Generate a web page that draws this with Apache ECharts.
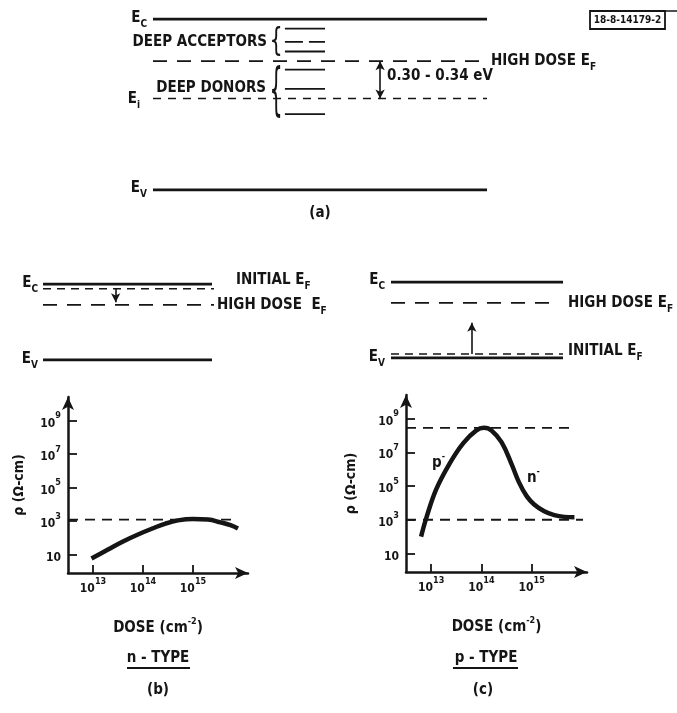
<!DOCTYPE html>
<html>
<head>
<meta charset="utf-8">
<script src="https://cdn.jsdelivr.net/npm/echarts@6/dist/echarts.min.js"></script>
<style>
  html, body { margin: 0; padding: 0; background: #fff; }
  #chart { width: 677px; height: 713px; }
</style>
</head>
<body>
<div id="chart"></div>
<script>
// energies in eV above E_V (GaAs gap)
const gapEnergy = 1.42
const highDoseFermiA = 1.07
const intrinsicA = 0.76
const deepAcceptors = [1.34, 1.23, 1.15]
const deepDonors = [1.00, 0.84, 0.63]
const initialFermiB = 1.33
const highDoseFermiB = 1.03
const initialFermiC = 0.075
const highDoseFermiC = 1.03

// resistivity vs dose, log10 values
const logDoseB = [12.97, 13.3, 13.6, 13.9, 14.2, 14.45, 14.7, 15.0, 15.3, 15.55, 15.75, 15.9]
const logRhoB = [0.76, 1.30, 1.78, 2.20, 2.57, 2.85, 3.04, 3.12, 3.09, 2.92, 2.75, 2.55]
const logDoseC = [12.8, 12.9, 13.1, 13.37, 13.64, 13.9, 14.05, 14.2, 14.4, 14.6, 14.75, 14.9, 15.05, 15.25, 15.45, 15.65, 15.85]
const logRhoC = [2.0, 3.07, 4.8, 6.35, 7.55, 8.3, 8.45, 8.3, 7.6, 6.3, 5.2, 4.4, 3.9, 3.5, 3.27, 3.17, 3.15]
const rhoLimitB = 3.08
const rhoLimitsC = [8.45, 3.0]
const doseTicks = [13, 14, 15]
const rhoTicks = [1, 3, 5, 7, 9]

const INK = '#151515'
const FONT = '"DejaVu Sans Condensed", "Liberation Sans Narrow", sans-serif'

let rich = {
  b: { fontSize: 15, fontFamily: FONT, fontWeight: 'bold', color: INK, lineHeight: 22, verticalAlign: 'middle' },
  sub: { fontSize: 10, fontFamily: FONT, color: INK, fontWeight: 'bold', verticalAlign: 'bottom' },
  t: { fontSize: 12, fontFamily: FONT, fontWeight: 'bold', color: INK, lineHeight: 18, verticalAlign: 'bottom' },
  sup: { fontSize: 9, fontFamily: FONT, fontWeight: 'bold', color: INK, verticalAlign: 'top' }
}

function pair(x, y) {
  return x.map((v, i) => [v, y[i]])
}

// one horizontal band level drawn across a hidden grid
function level(grid, x0, x1, e, dashed, width, extra) {
  return Object.assign({
    type: 'line',
    xAxisIndex: grid,
    yAxisIndex: grid,
    data: [[x0, e], [x1, e]],
    showSymbol: false,
    silent: true,
    lineStyle: { color: INK, width: width, type: dashed || 'solid' }
  }, extra || {})
}

function arrow(from, to, x, both) {
  return {
    silent: true,
    symbol: both ? ['arrow', 'arrow'] : ['none', 'arrow'],
    symbolSize: [7, 9],
    label: { show: false },
    lineStyle: { color: INK, width: 1.6, type: 'solid' },
    data: [[{ coord: [x, from] }, { coord: [x, to] }]]
  }
}

function bandAxis(grid) {
  return {
    x: { gridIndex: grid, type: 'value', min: 0, max: 1, show: false },
    y: { gridIndex: grid, type: 'value', min: 0, max: gapEnergy, show: false }
  }
}

function plotXAxis(grid) {
  return {
    gridIndex: grid, type: 'value', min: 12.5, max: 16.1,
    axisLine: { onZero: false, symbol: ['none', 'arrow'], symbolSize: [9, 13], lineStyle: { color: INK, width: 2.5 } },
    axisTick: { inside: true, length: 8, customValues: doseTicks, lineStyle: { color: INK, width: 1.8 } },
    axisLabel: {
      customValues: doseTicks, margin: 4,
      formatter: v => '{t|10}{sup|' + v + '}', rich: rich
    },
    splitLine: { show: false },
    name: '{b|DOSE (cm}{sup|-2}{b|)}',
    nameLocation: 'middle', nameGap: 44,
    nameTextStyle: { rich: rich }
  }
}

function plotYAxis(grid, gap) {
  return {
    gridIndex: grid, type: 'value', min: -0.1, max: 10.4,
    axisLine: { onZero: false, symbol: ['none', 'arrow'], symbolSize: [9, 13], lineStyle: { color: INK, width: 2.5 } },
    axisTick: { inside: true, length: 9, customValues: rhoTicks, lineStyle: { color: INK, width: 1.8 } },
    axisLabel: {
      customValues: rhoTicks, margin: 7,
      formatter: v => v === 1 ? '{t|10}' : '{t|10}{sup|' + v + '}', rich: rich
    },
    splitLine: { show: false },
    name: 'ρ (Ω-cm)',
    nameLocation: 'middle', nameRotate: 90, nameGap: gap,
    nameTextStyle: { fontSize: 14, fontFamily: FONT, color: INK, fontWeight: 'bold' }
  }
}

let bandA = bandAxis(0), bandB = bandAxis(1), bandC = bandAxis(2)

let solid = 3
let option = {
  backgroundColor: '#fff',
  animation: false,
  grid: [
    { left: 153, top: 19, width: 334, height: 171 },
    { left: 43, top: 284, width: 169, height: 76 },
    { left: 391, top: 282, width: 172, height: 76 },
    { left: 68, top: 397, width: 180, height: 176 },
    { left: 406, top: 395, width: 181, height: 177 }
  ],
  xAxis: [bandA.x, bandB.x, bandC.x, plotXAxis(3), plotXAxis(4)],
  yAxis: [bandA.y, bandB.y, bandC.y, plotYAxis(3, 42), plotYAxis(4, 48)],
  series: [
    // (a) general band diagram
    level(0, 0, 1, gapEnergy, null, solid),
    level(0, 0, 1, 0, null, solid),
    level(0, 0, 1, highDoseFermiA, [14, 10], 1.8, { markLine: arrow(highDoseFermiA, intrinsicA, 0.68, true) }),
    level(0, 0, 1, intrinsicA, [8, 7], 1.6),
    level(0, 0.395, 0.515, deepAcceptors[0], null, 1.8),
    level(0, 0.395, 0.515, deepAcceptors[1], [18, 6], 1.8),
    level(0, 0.395, 0.515, deepAcceptors[2], null, 1.8),
    level(0, 0.395, 0.515, deepDonors[0], null, 1.8),
    level(0, 0.395, 0.515, deepDonors[1], null, 1.8),
    level(0, 0.395, 0.515, deepDonors[2], null, 1.8),
    // (b) n-type
    level(1, 0, 1, gapEnergy, null, solid),
    level(1, 0, 1, 0, null, solid),
    level(1, 0, 1.107, initialFermiB, [8, 6], 1.5, { markLine: arrow(initialFermiB, highDoseFermiB + 0.05, 0.43, false) }),
    level(1, 0, 1.018, highDoseFermiB, [14, 10], 1.8),
    // (c) p-type
    level(2, 0, 1, gapEnergy, null, solid),
    level(2, 0, 1, 0, null, solid),
    level(2, 0, 0.97, highDoseFermiC, [14, 10], 1.8),
    level(2, 0, 1, initialFermiC, [8, 6], 1.5, { markLine: arrow(initialFermiC, 0.66, 0.47, false) }),
    // (b) resistivity
    {
      type: 'line', xAxisIndex: 3, yAxisIndex: 3, silent: true,
      data: [[12.5, rhoLimitB], [15.8, rhoLimitB]], showSymbol: false,
      lineStyle: { color: INK, width: 1.8, type: [10, 7] }
    },
    {
      type: 'line', xAxisIndex: 3, yAxisIndex: 3, silent: true,
      data: pair(logDoseB, logRhoB), smooth: 0.4, showSymbol: false,
      lineStyle: { color: INK, width: 4.5, cap: 'butt' }
    },
    // (c) resistivity
    {
      type: 'line', xAxisIndex: 4, yAxisIndex: 4, silent: true,
      data: [[12.5, rhoLimitsC[0]], [15.85, rhoLimitsC[0]]], showSymbol: false,
      lineStyle: { color: INK, width: 1.8, type: [10, 7] }
    },
    {
      type: 'line', xAxisIndex: 4, yAxisIndex: 4, silent: true,
      data: [[12.5, rhoLimitsC[1]], [16.02, rhoLimitsC[1]]], showSymbol: false,
      lineStyle: { color: INK, width: 1.8, type: [10, 7] }
    },
    {
      type: 'line', xAxisIndex: 4, yAxisIndex: 4, silent: true,
      data: pair(logDoseC, logRhoC), smooth: 0.4, showSymbol: false,
      lineStyle: { color: INK, width: 4.5, cap: 'butt' }
    }
  ],
  graphic: []
}

function txt(x, y, text, align) {
  return {
    type: 'text', x: x, y: y, silent: true,
    style: { text: text, rich: rich, align: align || 'left', verticalAlign: 'middle', fill: INK }
  }
}
function brace(x, y, scaleY) {
  return {
    type: 'text', x: x, y: y, scaleY: scaleY, scaleX: 0.8, silent: true,
    style: { text: '{', font: '26px "DejaVu Sans"', fill: INK, align: 'center', verticalAlign: 'middle' }
  }
}
function rule(x0, x1, y, w) {
  return { type: 'line', silent: true, shape: { x1: x0, y1: y, x2: x1, y2: y }, style: { stroke: INK, lineWidth: w } }
}

option.graphic = [
  txt(147, 18, '{b|E}{sub|C}', 'right'),
  txt(267, 42, '{b|DEEP ACCEPTORS}', 'right'),
  brace(276, 42, 1.2),
  txt(491, 61, '{b|HIGH DOSE E}{sub|F}'),
  txt(266, 88, '{b|DEEP DONORS}', 'right'),
  brace(276, 93, 2.2),
  txt(140, 99, '{b|E}{sub|i}', 'right'),
  txt(387, 76, '{b|0.30 - 0.34 eV}'),
  txt(147, 188, '{b|E}{sub|V}', 'right'),
  txt(320, 213, '{b|(a)}', 'center'),
  // box tag
  { type: 'rect', silent: true, shape: { x: 590, y: 11, width: 75, height: 18 }, style: { fill: 'none', stroke: INK, lineWidth: 1.8 } },
  rule(665, 677, 11, 1.5),
  { type: 'text', x: 627.5, y: 20, silent: true, style: { text: '18-8-14179-2', font: 'bold 10px ' + FONT, fill: INK, align: 'center', verticalAlign: 'middle' } },
  // (b)
  txt(38, 283, '{b|E}{sub|C}', 'right'),
  txt(236, 280, '{b|INITIAL E}{sub|F}'),
  txt(217, 305, '{b|HIGH DOSE  E}{sub|F}'),
  txt(38, 359, '{b|E}{sub|V}', 'right'),
  // (c)
  txt(385, 280, '{b|E}{sub|C}', 'right'),
  txt(568, 303, '{b|HIGH DOSE E}{sub|F}'),
  txt(568, 351, '{b|INITIAL E}{sub|F}'),
  txt(385, 357, '{b|E}{sub|V}', 'right'),
  txt(432, 463, '{b|p}{sup|-}'),
  txt(527, 478, '{b|n}{sup|-}'),
  // captions
  txt(158, 658, '{b|n - TYPE}', 'center'),
  rule(127, 190, 668, 1.8),
  txt(158, 690, '{b|(b)}', 'center'),
  txt(486, 658, '{b|p - TYPE}', 'center'),
  rule(453, 518, 668, 1.8),
  txt(483, 690, '{b|(c)}', 'center')
]

let myChart = echarts.init(document.getElementById('chart'))
myChart.setOption(option)
</script>
</body>
</html>
